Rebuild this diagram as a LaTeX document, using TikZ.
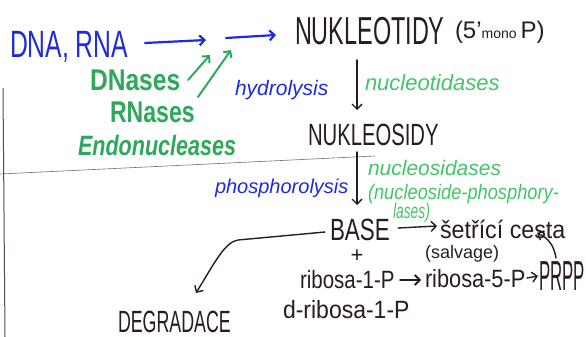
\documentclass[tikz,border=0pt]{standalone}
\usepackage{fontspec}
\setmainfont{Liberation Sans}
\usetikzlibrary{arrows.meta}
\definecolor{inkblue}{HTML}{1F2BD6}
\definecolor{inkgreen}{HTML}{2FA85E}
\definecolor{lightgreen}{HTML}{45C46A}
\definecolor{ink}{HTML}{2A1C1E}
\definecolor{pencil}{HTML}{707070}
\tikzset{
  lbl/.style={inner sep=0pt, outer sep=0pt, anchor=base west},
  caps/.style={lbl, text=ink, font=\fontsize{#1}{#1}\selectfont},
  lower/.style={lbl, text=ink, font=\fontsize{#1}{#1}\selectfont},
  enzyme/.style={lbl, text=inkgreen, font=\fontsize{#1}{#1}\selectfont\bfseries},
  cursive/.style={lbl, font=\fontsize{#1}{#1}\selectfont\itshape},
  barb/.style={-{Straight Barb[length=5pt,width=10pt]}, line cap=round},
  bluearrow/.style={barb, draw=inkblue, line width=2.2pt},
  greenarrow/.style={barb, draw=inkgreen, line width=2pt},
  blackarrow/.style={barb, draw=ink, line width=1.4pt},
}
\begin{document}
\begin{tikzpicture}[x=1pt,y=-1pt]
\useasboundingbox (0,0) rectangle (586,337);
\clip (0,0) rectangle (586,337);
\fill[white] (0,0) rectangle (586,337);

% pencil lines
\draw[pencil, line width=0.6pt] (0,174) -- (375,156);
\draw[ink!80, line width=1pt] (3,88) -- (5,337);

% texts
\node[caps=38, text=inkblue, xscale=0.65] (dna) at (10,58) {DNA, RNA};
\node[caps=39, xscale=0.6] (nukleotidy) at (295,45) {NUKLEOTIDY};
\node[lower=24] (mono) at (455,38) {(5’{\fontsize{14}{14}\selectfont mono}\,P)};
\node[enzyme=30, xscale=0.82] (dnases) at (90,90) {DNases};
\node[enzyme=30, xscale=0.77] (rnases) at (110,122) {RNases};
\node[enzyme=28, xscale=0.77, font=\fontsize{28}{28}\selectfont\bfseries\itshape] (endo) at (78,155) {Endonucleases};
\node[cursive=21, text=inkblue] (hydro) at (235,95) {hydrolysis};
\node[cursive=22, text=lightgreen] (nucleotidases) at (365,90) {nucleotidases};
\node[caps=30.7, xscale=0.66] (nukleosidy) at (308,145) {NUKLEOSIDY};
\node[cursive=20, text=inkblue] (phospho) at (215,193) {phosphorolysis};
\node[cursive=21, text=lightgreen] (nucleosidases) at (368,175) {nucleosidases};
\node[cursive=21, text=lightgreen, xscale=0.87] (phosphorylases) at (368,199) {(nucleoside-phosphory-};
\node[cursive=21, text=lightgreen, xscale=0.66] (lases) at (393,218) {lases)};
\node[caps=30.7, xscale=0.73] (base) at (330,240) {BASE};
\node[lower=25, xscale=0.93] (cesta) at (440,238) {šetřící cesta};
\node[lower=18] (salvage) at (425,258) {(salvage)};
\node[lower=22, anchor=center] (plus) at (357,256) {+};
\node[lower=25, xscale=0.82] (r1p) at (300,288) {ribosa-1-P};
\node[lower=25, xscale=0.87] (r5p) at (425,287) {ribosa-5-P};
\node[caps=42, xscale=0.4] (prpp) at (539,290) {PRPP};
\node[lower=25, xscale=0.92] (dr1p) at (283,318) {d-ribosa-1-P};
\node[caps=30.7, xscale=0.58] (degradace) at (118,332) {DEGRADACE};

% arrow end points
\coordinate (a1s) at (145,43);
\coordinate (a1e) at (206,40);
\coordinate (a2s) at (226,38);
\coordinate (a2e) at (276,35);
\coordinate (g1s) at (188,80);
\coordinate (g1e) at (210,55);
\coordinate (g2s) at (198,97);
\coordinate (g2e) at (231,50);
\coordinate (d1s) at (357,60);
\coordinate (d1e) at (357,110);
\coordinate (d2s) at (357,152);
\coordinate (d2e) at (357,205);
\coordinate (bs) at (398,228);
\coordinate (be) at (437,226);
\coordinate (rs) at (400,280);
\coordinate (re) at (421,280);
\coordinate (ps) at (527,278);
\coordinate (pe) at (538,276);
\coordinate (cs) at (556,258);
\coordinate (ce) at (537,233);
\coordinate (ds) at (325,232);
\coordinate (dk) at (238,240);
\coordinate (de) at (196,293);

% arrows
\draw[bluearrow] (a1s) -- (a1e);
\draw[bluearrow] (a2s) -- (a2e);
\draw[greenarrow] (g1s) -- (g1e);
\draw[greenarrow] (g2s) -- (g2e);
\draw[blackarrow] (d1s) -- (d1e);
\draw[blackarrow] (d2s) -- (d2e);
\draw[blackarrow] (bs) -- (be);
\draw[blackarrow, line width=1.8pt] (rs) -- (re);
\draw[blackarrow] (ps) -- (pe);
\draw[blackarrow] (cs) .. controls (554,245) and (548,238) .. (ce);
\draw[blackarrow] (ds) -- (dk) .. controls (225,242) and (215,262) .. (de);
\end{tikzpicture}
\end{document}
